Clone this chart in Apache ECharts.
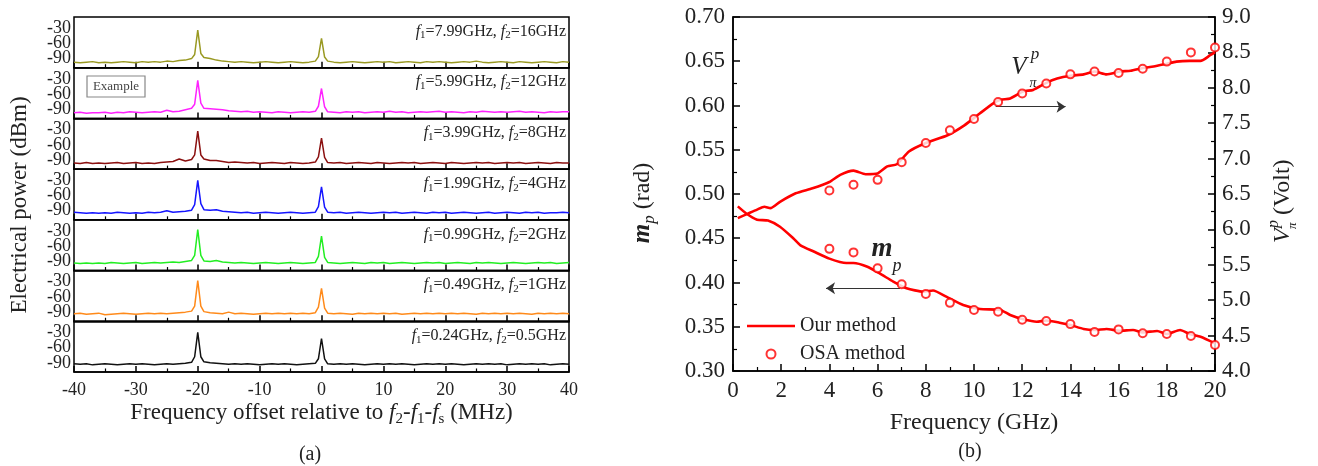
<!DOCTYPE html>
<html><head><meta charset="utf-8">
<script src="https://cdn.jsdelivr.net/npm/echarts@6/dist/echarts.min.js"></script>
<style>html,body{margin:0;padding:0;background:#fff}#c{width:1318px;height:466px}</style>
</head><body><div id="c"></div>
<script>
// ---------- Panel (a): spectra ----------
const offsetMHz = [
 -40,-39,-38,-37,-36,-35,-34,-33,-32,-31,-30,-29,-28,-27,-26,-25,-24,-23,-22,-21,
 -20.5,-20,-19.5,
 -19,-18,-17,-16,-15,-14,-13,-12,-11,-10,-9,-8,-7,-6,-5,-4,-3,-2,-1,
 -0.5,0,0.5,
 1,2,3,4,5,6,7,8,9,10,11,12,13,14,15,16,17,18,19,20,
 21,22,23,24,25,26,27,28,29,30,31,32,33,34,35,36,37,38,39,40];

const powerOlive = [
 -97,-98,-97,-96,-98,-97,-98,-97,-96,-97, -98,-96,-97,-96,-97,-95,-96,-94,-93,-90,
 -82,-34,-80,
 -88,-90,-93,-95,-96,-97,-96,-97,-98,-97, -96,-97,-98,-97,-96,-97,-98,-97,-95,
 -86,-50,-87,
 -95,-97,-98,-97,-96,-97,-98,-97,-96,-97, -96,-98,-97,-96,-97,-98,-96,-97,-96,-97,
 -98,-97,-96,-97,-95,-97,-98,-97,-96,-97, -98,-96,-97,-98,-97,-96,-97,-98,-96,-97];
const powerMagenta = [
 -97,-96,-98,-97,-97,-96,-98,-96,-97,-95, -96,-97,-96,-95,-96,-92,-95,-94,-91,-88,
 -80,-33,-78,
 -88,-89,-90,-91,-93,-94,-95,-94,-96,-95, -96,-97,-95,-96,-97,-96,-95,-96,-94,
 -84,-49,-85,
 -95,-96,-97,-95,-96,-95,-97,-96,-95,-96, -94,-96,-95,-97,-96,-95,-96,-95,-94,-96,
 -95,-96,-97,-95,-96,-94,-95,-96,-95,-96, -95,-94,-96,-95,-96,-97,-95,-96,-95,-95];
const powerBrown = [
 -96,-97,-95,-97,-96,-97,-96,-95,-97,-96, -95,-97,-96,-97,-95,-94,-93,-88,-92,-89,
 -80,-33,-80,
 -88,-91,-91,-93,-95,-94,-95,-96,-95,-97, -96,-95,-96,-97,-95,-96,-97,-96,-94,
 -84,-47,-85,
 -95,-96,-95,-97,-96,-95,-96,-97,-95,-96, -97,-96,-95,-96,-95,-97,-96,-95,-96,-97,
 -95,-96,-97,-96,-95,-96,-95,-97,-96,-95, -96,-95,-97,-96,-95,-96,-97,-95,-96,-96];
const powerBlue = [
 -93,-94,-95,-94,-95,-94,-95,-93,-94,-95, -94,-95,-93,-94,-93,-90,-93,-92,-91,-89,
 -78,-30,-76,
 -88,-89,-88,-91,-92,-93,-94,-93,-95,-94, -93,-94,-95,-94,-93,-94,-95,-94,-93,
 -82,-43,-83,
 -93,-94,-93,-95,-94,-93,-94,-95,-94,-93, -94,-93,-95,-94,-93,-94,-95,-93,-94,-93,
 -95,-94,-93,-94,-95,-94,-93,-95,-94,-93, -94,-95,-93,-94,-93,-95,-94,-94,-93,-94];
const powerGreen = [
 -93,-94,-93,-94,-93,-94,-92,-93,-94,-93, -92,-94,-93,-92,-93,-92,-91,-92,-90,-88,
 -78,-27,-78,
 -89,-90,-88,-91,-92,-93,-92,-93,-94,-93, -92,-93,-94,-93,-92,-93,-94,-93,-92,
 -80,-40,-82,
 -92,-93,-94,-93,-92,-93,-94,-92,-93,-92, -94,-93,-92,-93,-94,-93,-92,-93,-92,-94,
 -93,-92,-93,-94,-92,-93,-92,-93,-94,-93, -92,-93,-94,-93,-92,-93,-92,-94,-93,-92];
const powerOrange = [
 -93,-92,-94,-93,-92,-95,-94,-93,-92,-93, -94,-93,-92,-93,-92,-93,-92,-91,-90,-88,
 -78,-28,-78,
 -89,-91,-92,-93,-90,-93,-92,-93,-94,-93, -92,-93,-92,-93,-92,-93,-92,-93,-91,
 -80,-43,-82,
 -92,-93,-92,-93,-94,-92,-93,-92,-93,-92, -93,-92,-94,-93,-92,-93,-92,-93,-92,-93,
 -92,-93,-92,-93,-94,-92,-93,-92,-93,-92, -93,-92,-93,-94,-92,-93,-92,-93,-92,-93];
const powerBlack = [
 -92,-93,-92,-94,-93,-92,-93,-94,-93,-92, -93,-92,-93,-94,-93,-92,-93,-92,-91,-89,
 -78,-30,-78,
 -88,-90,-91,-92,-93,-92,-93,-92,-93,-94, -93,-92,-93,-92,-93,-94,-93,-92,-91,
 -82,-42,-82,
 -92,-93,-92,-93,-92,-93,-94,-93,-92,-93, -92,-93,-92,-93,-94,-93,-92,-93,-92,-93,
 -92,-93,-94,-93,-92,-93,-92,-93,-92,-94, -93,-92,-93,-92,-93,-92,-94,-93,-92,-93];

const f1Labels = ['7.99','5.99','3.99','1.99','0.99','0.49','0.24'];
const f2Labels = ['16','12','8','4','2','1','0.5'];
const powerTicks = [-90,-60,-30];

// ---------- Panel (b) ----------
const vpiFreq = [0.2,0.6,1.0,1.3,1.55,1.95,2.6,3.3,4.0,4.45,5.0,5.5,6.0,6.4,6.8,7.3,8.0,8.9,9.6,10.25,10.8,11.1,11.5,12.05,12.45,13.0,13.45,14.0,14.55,15.0,15.5,16.05,16.5,17.0,17.45,18.0,18.4,18.95,19.4,19.8,20.0];
const vpiOurs = [6.16,6.22,6.28,6.32,6.30,6.39,6.51,6.58,6.67,6.77,6.83,6.78,6.79,6.89,6.92,7.10,7.22,7.33,7.47,7.64,7.78,7.83,7.85,7.95,7.97,8.07,8.13,8.17,8.19,8.23,8.19,8.23,8.24,8.28,8.30,8.34,8.37,8.38,8.38,8.46,8.50];
const mpFreq = [0.2,0.55,1.0,1.45,1.95,2.5,2.8,3.35,4.0,4.7,5.0,5.55,6.1,6.65,7.2,7.9,8.3,8.85,9.55,10.25,11.1,11.5,12.05,12.6,13.0,13.55,14.0,14.55,15.0,15.5,16.05,16.6,17.0,17.6,18.0,18.55,18.95,19.4,20.0];
const mpOurs = [0.486,0.478,0.471,0.470,0.463,0.450,0.442,0.435,0.427,0.422,0.422,0.418,0.410,0.401,0.3935,0.3896,0.391,0.384,0.3746,0.370,0.369,0.3633,0.3584,0.3557,0.357,0.3546,0.352,0.3475,0.3463,0.3475,0.3455,0.3463,0.3437,0.3452,0.3418,0.3463,0.3418,0.3388,0.3313];
const osaFreq = [4,5,6,7,8,9,10,11,12,13,14,15,16,17,18,19,20];
const osaVpi = [6.55,6.63,6.70,6.95,7.22,7.40,7.56,7.80,7.92,8.06,8.19,8.23,8.21,8.27,8.37,8.50,8.57];
const osaMp = [0.438,0.434,0.416,0.398,0.387,0.377,0.369,0.367,0.358,0.3565,0.353,0.344,0.347,0.3426,0.3418,0.3396,0.3294];

// ---------- build ----------
const FF = 'Liberation Serif';
const TXT = '#222';
const traces = [powerOlive, powerMagenta, powerBrown, powerBlue, powerGreen, powerOrange, powerBlack];
const traceColors = ['#999922', '#ff22ff', '#8b1010', '#1515ff', '#22ee22', '#ff8a1a', '#111111'];

const grids = [], xAxes = [], yAxes = [], series = [], graphics = [];
const A_LEFT = 74, A_W = 495, A_TOP = 17, A_H = 50.71;

for (let i = 0; i < 7; i++) {
  const top = A_TOP + i * A_H;
  const last = i === 6;
  grids.push({left: A_LEFT, top: top, width: A_W, height: A_H, show: true, borderColor: '#000', borderWidth: 1.5});
  xAxes.push({
    gridIndex: i, type: 'value', min: -40, max: 40, interval: 10,
    axisLine: {show: true, lineStyle: {color: '#000', width: 1.5}},
    axisTick: {show: true, inside: true, length: 6, lineStyle: {color: '#000', width: 1.5}},
    minorTick: {show: true, splitNumber: 2, length: 3.5, lineStyle: {color: '#000', width: 1.2}},
    splitLine: {show: false},
    axisLabel: {show: last, fontFamily: FF, fontSize: 18, color: TXT, margin: 9},
    name: last ? '{n|Frequency offset relative to }{i|f}{s|2}{n|-}{i|f}{s|1}{n|-}{i|f}{s|s}{n| (MHz)}' : '',
    nameLocation: 'middle', nameGap: 27,
    nameTextStyle: {
      fontFamily: FF, fontSize: 23, color: TXT,
      rich: {
        n: {fontFamily: FF, fontSize: 23, lineHeight: 28, color: TXT},
        i: {fontFamily: FF, fontSize: 23, lineHeight: 28, fontStyle: 'italic', color: TXT},
        s: {fontFamily: FF, fontSize: 15, lineHeight: 14, verticalAlign: 'bottom', color: TXT}
      }
    }
  });
  // ticks every 6 dB from -108 so that -90, -60, -30 fall on ticks; only those are labelled
  yAxes.push({
    gridIndex: i, type: 'value', min: -108, max: -8, interval: 6,
    axisLine: {show: false}, axisTick: {show: false}, splitLine: {show: false},
    axisLabel: {fontFamily: FF, fontSize: 18, color: TXT, margin: 3, hideOverlap: false,
      formatter: v => (powerTicks.indexOf(Math.round(v)) >= 0 ? String(Math.round(v)) : '')}
  });
  series.push({
    type: 'line', xAxisIndex: i, yAxisIndex: i,
    data: offsetMHz.map((x, j) => [x, traces[i][j]]),
    symbol: 'none', lineStyle: {color: traceColors[i], width: 1.5},
    silent: true, emphasis: {disabled: true}, z: 3
  });
  graphics.push({
    type: 'text', x: 566, y: top + 14.5, z: 100,
    style: {
      text: '{i|f}{s|1}{n|=' + f1Labels[i] + 'GHz, }{i|f}{s|2}{n|=' + f2Labels[i] + 'GHz}',
      align: 'right', verticalAlign: 'middle',
      rich: {
        n: {fontFamily: FF, fontSize: 16, lineHeight: 19, fill: TXT},
        i: {fontFamily: FF, fontSize: 16, lineHeight: 19, fontStyle: 'italic', fill: TXT},
        s: {fontFamily: FF, fontSize: 11, lineHeight: 10, verticalAlign: 'bottom', fill: TXT}
      }
    }
  });
}

// Panel (b) grid and axes: xAxis 7, yAxis 7 (left, m_p), yAxis 8 (right, V_pi)
grids.push({left: 733, top: 17, width: 482, height: 354, show: true, borderColor: '#000', borderWidth: 1.5});
const tickB = {show: true, inside: true, length: 7, lineStyle: {color: '#000', width: 1.5}};
const minorB = {show: true, splitNumber: 2, length: 4, lineStyle: {color: '#000', width: 1.2}};
xAxes.push({
  gridIndex: 7, type: 'value', min: 0, max: 20, interval: 2,
  axisLine: {show: true, lineStyle: {color: '#000', width: 1.5}},
  axisTick: tickB, minorTick: minorB, splitLine: {show: false},
  axisLabel: {fontFamily: FF, fontSize: 23, color: TXT, margin: 8},
  name: 'Frequency (GHz)', nameLocation: 'middle', nameGap: 40,
  nameTextStyle: {fontFamily: FF, fontSize: 24, color: TXT}
});
yAxes.push({
  gridIndex: 7, type: 'value', position: 'left', min: 0.3, max: 0.7, interval: 0.05,
  axisLine: {show: true, lineStyle: {color: '#000', width: 1.5}},
  axisTick: tickB, minorTick: minorB, splitLine: {show: false},
  axisLabel: {fontFamily: FF, fontSize: 23, color: TXT, margin: 8, formatter: v => v.toFixed(2)}
});
yAxes.push({
  gridIndex: 7, type: 'value', position: 'right', min: 4, max: 9, interval: 0.5,
  axisLine: {show: true, lineStyle: {color: '#000', width: 1.5}},
  axisTick: tickB, minorTick: minorB, splitLine: {show: false},
  axisLabel: {fontFamily: FF, fontSize: 23, color: TXT, margin: 7, formatter: v => v.toFixed(1)}
});

const RED = '#ff0000';
const arrowStyle = {color: '#333', width: 1, type: 'solid'};
series.push({
  name: 'Our method', type: 'line', xAxisIndex: 7, yAxisIndex: 8,
  data: vpiFreq.map((f, j) => [f, vpiOurs[j]]),
  symbol: 'none', smooth: 0.2, lineStyle: {color: RED, width: 2.6}, itemStyle: {color: RED},
  emphasis: {disabled: true}, z: 4
});
series.push({
  name: 'Our method', type: 'line', xAxisIndex: 7, yAxisIndex: 7,
  data: mpFreq.map((f, j) => [f, mpOurs[j]]),
  symbol: 'none', smooth: 0.2, lineStyle: {color: RED, width: 2.6}, itemStyle: {color: RED},
  emphasis: {disabled: true}, z: 4,
  markLine: {
    silent: true, animation: false, symbol: ['none', 'arrow'], symbolSize: 9,
    label: {show: false}, lineStyle: arrowStyle, emphasis: {disabled: true},
    data: [
      [{coord: [10.9, 0.5986]}, {coord: [13.8, 0.5986]}],
      [{coord: [6.93, 0.3934]}, {coord: [3.86, 0.3934]}]
    ]
  }
});
series.push({
  name: 'OSA method', type: 'scatter', xAxisIndex: 7, yAxisIndex: 8,
  data: osaFreq.map((f, j) => [f, osaVpi[j]]),
  symbol: 'emptyCircle', symbolSize: 8, itemStyle: {color: RED, borderWidth: 1.5},
  emphasis: {disabled: true}, z: 5
});
series.push({
  name: 'OSA method', type: 'scatter', xAxisIndex: 7, yAxisIndex: 7,
  data: osaFreq.map((f, j) => [f, osaMp[j]]),
  symbol: 'emptyCircle', symbolSize: 8, itemStyle: {color: RED, borderWidth: 1.5},
  emphasis: {disabled: true}, z: 5
});

// Text elements
const T = (x, y, text, size, extra) => ({
  type: 'text', x: x, y: y, z: 100,
  style: Object.assign({text: text, fontFamily: FF, fontSize: size, fill: TXT, align: 'center', verticalAlign: 'middle'}, extra || {})
});
graphics.push({type: 'text', x: 20, y: 205, rotation: Math.PI / 2, z: 100,
  style: {text: 'Electrical power (dBm)', fontFamily: FF, fontSize: 23, fill: TXT, align: 'center', verticalAlign: 'middle'}});
graphics.push(T(310, 455, '(a)', 20));
graphics.push(T(970, 452, '(b)', 20));
graphics.push({type: 'rect', z: 100, shape: {x: 87, y: 76, width: 58, height: 21},
  style: {fill: '#fff', stroke: '#888', lineWidth: 1.2}});
graphics.push(T(116, 86.5, 'Example', 13, {fill: '#444'}));

// m_p (rad) axis title
graphics.push({type: 'text', x: 643, y: 203, rotation: Math.PI / 2, z: 100,
  style: {text: '{m|m}{p|p}{n| (rad)}', align: 'center', verticalAlign: 'middle',
    rich: {
      m: {fontFamily: FF, fontSize: 25, lineHeight: 30, fontStyle: 'italic', fontWeight: 'bold', fill: TXT},
      p: {fontFamily: FF, fontSize: 17, lineHeight: 17, fontStyle: 'italic', verticalAlign: 'bottom', fill: TXT},
      n: {fontFamily: FF, fontSize: 24, lineHeight: 30, fill: TXT}
    }}});
// V^p_pi (Volt) axis title
graphics.push({type: 'group', x: 1283, y: 198, rotation: Math.PI / 2, z: 100, children: [
  {type: 'text', x: -45, y: 0, style: {text: 'V', fontFamily: FF, fontSize: 24, fontStyle: 'italic', fill: TXT, align: 'left', verticalAlign: 'middle'}},
  {type: 'text', x: -30, y: -9, style: {text: 'p', fontFamily: FF, fontSize: 16, fontStyle: 'italic', fill: TXT, align: 'left', verticalAlign: 'middle'}},
  {type: 'text', x: -31, y: 10, style: {text: 'π', fontFamily: FF, fontSize: 13, fontStyle: 'italic', fill: TXT, align: 'left', verticalAlign: 'middle'}},
  {type: 'text', x: -17, y: 0, style: {text: '(Volt)', fontFamily: FF, fontSize: 24, fill: TXT, align: 'left', verticalAlign: 'middle'}}
]});
// in-plot annotations
graphics.push(T(1019, 67, 'V', 25, {fontStyle: 'italic'}));
graphics.push(T(1035, 55, 'p', 17, {fontStyle: 'italic'}));
graphics.push(T(1033, 83, 'π', 14, {fontStyle: 'italic'}));
graphics.push(T(882, 249, 'm', 27, {fontStyle: 'italic', fontWeight: 'bold'}));
graphics.push(T(897, 266, 'p', 18, {fontStyle: 'italic'}));

const chart = echarts.init(document.getElementById('c'));
chart.setOption({
  animation: false,
  backgroundColor: '#fff',
  grid: grids, xAxis: xAxes, yAxis: yAxes, series: series,
  legend: {
    left: 742, top: 311, orient: 'vertical', padding: 5,
    itemWidth: 48, itemHeight: 9, itemGap: 8, selectedMode: false,
    textStyle: {fontFamily: FF, fontSize: 20, color: TXT},
    data: [
      {name: 'Our method', icon: 'path://M0,0 L100,0 L100,5.5 L0,5.5 Z'},
      {name: 'OSA method', icon: 'emptyCircle'}
    ]
  },
  graphic: graphics
});
</script></body></html>
